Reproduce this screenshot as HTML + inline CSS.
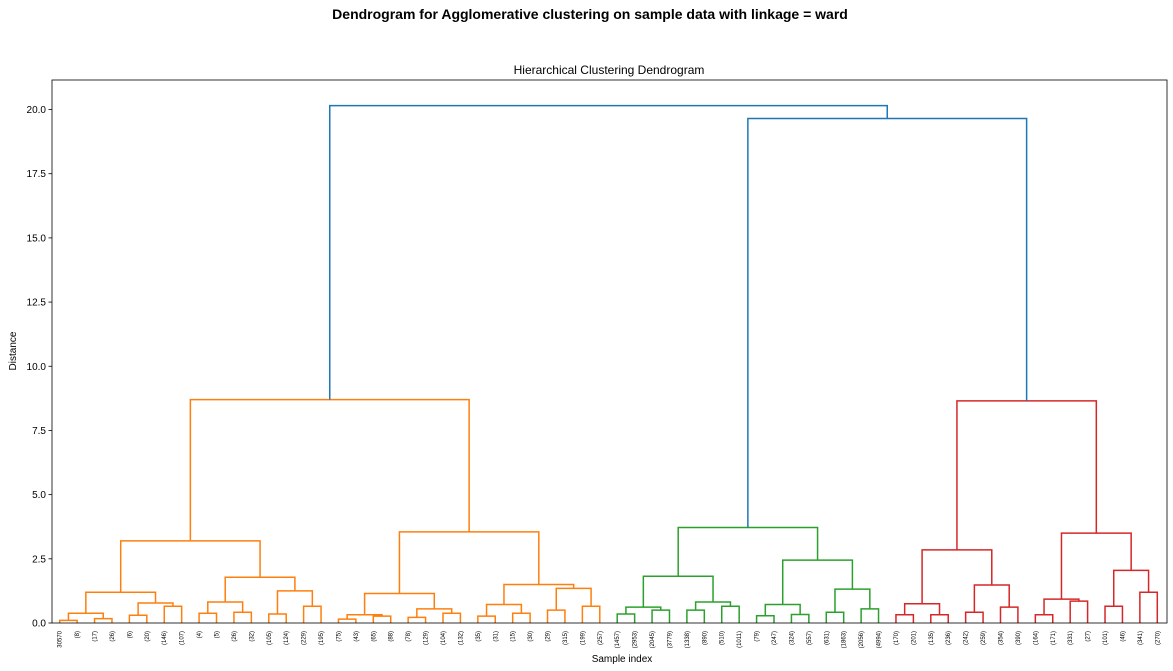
<!DOCTYPE html>
<html><head><meta charset="utf-8"><style>
html,body{margin:0;padding:0;background:#fff;}
svg{display:block;font-family:"Liberation Sans","DejaVu Sans",sans-serif;}
</style></head><body>
<svg id="chart" width="1173" height="671" viewBox="0 0 1173 671">
<text x="590" y="19" text-anchor="middle" font-size="14" font-weight="bold" fill="#000">Dendrogram for Agglomerative clustering on sample data with linkage = ward</text>
<text x="609" y="74" text-anchor="middle" font-size="12" fill="#000">Hierarchical Clustering Dendrogram</text>
<text x="622" y="662" text-anchor="middle" font-size="10" fill="#000">Sample index</text>
<text x="16" y="351" text-anchor="middle" font-size="10" fill="#000" transform="rotate(-90 16 351)">Distance</text>
<g id="links"></g>
<g id="yticks"></g>
<g id="xlabels"></g>
<rect x="52" y="80" width="1115" height="543" fill="none" stroke="#000" stroke-width="0.8"/>
</svg>
<script>
const leafLabels = ["30570","(8)","(17)","(26)","(6)","(20)","(146)","(107)","(4)","(5)","(26)","(32)","(105)","(124)","(229)","(195)","(75)","(43)","(65)","(88)","(78)","(129)","(104)","(132)","(35)","(31)","(15)","(30)","(29)","(315)","(199)","(257)","(1457)","(2953)","(2045)","(3779)","(1338)","(890)","(510)","(1011)","(79)","(247)","(324)","(557)","(631)","(1863)","(2056)","(4994)","(170)","(201)","(135)","(236)","(242)","(259)","(354)","(390)","(164)","(171)","(331)","(27)","(101)","(46)","(341)","(270)"];
const mergeLeft = [0,2,64,4,6,67,66,8,10,71,12,14,74,73,70,16,18,79,20,22,82,81,24,26,86,28,30,89,88,85,78,32,34,95,36,38,98,97,40,42,102,44,46,105,104,101,48,50,110,52,54,113,112,56,58,117,60,62,120,119,116,109,94];
const mergeRight = [1,3,65,5,7,68,69,9,11,72,13,15,75,76,77,17,19,80,21,23,83,84,25,27,87,29,31,90,91,92,93,33,35,96,37,39,99,100,41,43,103,45,47,106,107,108,49,51,111,53,55,114,115,57,59,118,61,63,121,122,123,124,125];
const mergeHeight = [0.1,0.17,0.38,0.3,0.65,0.78,1.2,0.38,0.42,0.82,0.35,0.65,1.25,1.78,3.2,0.15,0.27,0.32,0.22,0.38,0.55,1.15,0.27,0.38,0.72,0.5,0.65,1.35,1.5,3.55,8.7,0.35,0.5,0.62,0.5,0.65,0.82,1.82,0.28,0.33,0.72,0.42,0.55,1.32,2.45,3.72,0.32,0.32,0.75,0.42,0.62,1.48,2.85,0.32,0.85,0.93,0.65,1.2,2.05,3.5,8.65,19.65,20.15];
const yTicks = [0,2.5,5,7.5,10,12.5,15,17.5,20];

const NS = "http://www.w3.org/2000/svg";
const X0 = 52, W = 1115, Y0 = 623, YTOP = 80;
const yMax = 21.15;
const n = leafLabels.length;
function xScale(u){ return X0 - 1 + u * W / (n * 10); }
function yScale(v){ return Y0 - v * (Y0 - YTOP) / yMax; }
function mk(tag, attrs){ const e = document.createElementNS(NS, tag); for (const k in attrs) e.setAttribute(k, attrs[k]); return e; }

const threshold = 0.7 * Math.max(...mergeHeight);
const palette = ["#ff7f0e","#2ca02c","#d62728"];
const pos = [], hgt = [];
for (let i = 0; i < n; i++){ pos[i] = i * 10 + 5; hgt[i] = 0; }
const clusterOf = {};
const parent = {};
mergeLeft.forEach((l, k) => { parent[l] = n + k; parent[mergeRight[k]] = n + k; });
function hOf(id){ return id < n ? 0 : mergeHeight[id - n]; }
const roots = [];
for (let id = n; id < n + mergeLeft.length; id++){
  if (hOf(id) < threshold && (parent[id] === undefined || hOf(parent[id]) >= threshold)) roots.push(id);
}
function leavesMin(id){ return id < n ? id : Math.min(leavesMin(mergeLeft[id - n]), leavesMin(mergeRight[id - n])); }
roots.sort((a, b) => leavesMin(a) - leavesMin(b));
function mark(id, c){ clusterOf[id] = c; if (id >= n){ mark(mergeLeft[id - n], c); mark(mergeRight[id - n], c); } }
roots.forEach((r, i) => mark(r, palette[i % palette.length]));

const gL = document.getElementById('links');
mergeLeft.forEach((l, k) => {
  const r = mergeRight[k], id = n + k, h = mergeHeight[k];
  pos[id] = (pos[l] + pos[r]) / 2; hgt[id] = h;
  const color = h < threshold ? clusterOf[id] : "#1f77b4";
  const d = `M${xScale(pos[l])},${yScale(hgt[l])} V${yScale(h)} H${xScale(pos[r])} V${yScale(hgt[r])}`;
  const p = mk('path', {d: d, fill: 'none', stroke: color, 'stroke-width': 1.5});
  
  
  gL.appendChild(p);
});

const gY = document.getElementById('yticks');
yTicks.forEach(v => {
  const y = yScale(v);
  const t = mk('line', {x1: X0 - 3.5, x2: X0, y1: y, y2: y, stroke: '#000', 'stroke-width': 0.8});
  
  
  gY.appendChild(t);
  const lab = mk('text', {x: X0 - 6, y: y + 3.5, 'text-anchor': 'end', 'font-size': 10, fill: '#000'});
  lab.textContent = v.toFixed(1);
  
  
  gY.appendChild(lab);
});

const gX = document.getElementById('xlabels');
leafLabels.forEach((s, i) => {
  const x = xScale(i * 10 + 5);
  const t = mk('text', {x: 0, y: 0, 'text-anchor': 'end', 'font-size': 6, fill: '#000', transform: `translate(${x + 2},${Y0 + 8}) rotate(-90)`});
  t.textContent = s;
  
  
  gX.appendChild(t);
});
</script>
</body></html>
